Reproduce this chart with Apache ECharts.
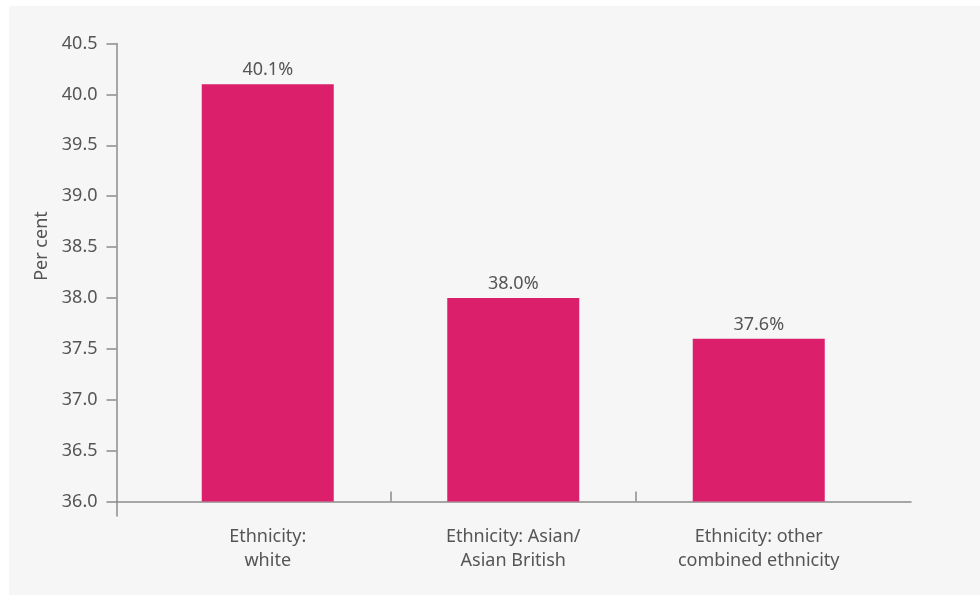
<!DOCTYPE html>
<html>
<head>
<meta charset="utf-8">
<script src="https://cdn.jsdelivr.net/npm/echarts@6/dist/echarts.min.js"></script>
<style>
  html, body { margin: 0; padding: 0; background: #ffffff; }
  #chart { position: absolute; left: 9px; top: 6px; width: 971px; height: 589px; background: #f6f6f6; }
</style>
</head>
<body>
<div id="chart"></div>
<script>
const categories = ['Ethnicity:\nwhite', 'Ethnicity: Asian/\nAsian British', 'Ethnicity: other\ncombined ethnicity'];
const values = [40.1, 38.0, 37.6];
const yMin = 36.0, yMax = 40.5, yStep = 0.5;
const boundaryTicks = [1, 2];

const FONT = 'Noto Sans';
const TEXT = '#555555';
const AXIS = '#8c8c8c';
const BAR = '#DB1F6B';

const chart = echarts.init(document.getElementById('chart'), null, { renderer: 'canvas' });
chart.setOption({
  backgroundColor: '#f6f6f6',
  animation: false,
  textStyle: { fontFamily: FONT },
  grid: [
    { left: 136, right: 98.5, top: 37.5, bottom: 93.5 },
    { left: 107.5, right: 69, top: 37.5, bottom: 93.5 },
    { left: 107.5, width: 10, top: 495.5, height: 14.5 }
  ],
  xAxis: [
    {
      type: 'category', gridIndex: 0, data: categories,
      axisLine: { show: false }, axisTick: { show: false },
      axisLabel: { color: TEXT, fontSize: 18, fontFamily: FONT, lineHeight: 24, margin: 23, interval: 0 }
    },
    {
      type: 'value', gridIndex: 0, min: 0, max: categories.length, position: 'bottom',
      axisLine: { show: false, onZero: false }, splitLine: { show: false }, axisLabel: { show: false },
      axisTick: { show: true, inside: true, length: 10, customValues: boundaryTicks, lineStyle: { color: AXIS, width: 1.5 } }
    },
    {
      type: 'value', gridIndex: 1, min: 0, max: 1,
      axisLine: { show: true, onZero: false, lineStyle: { color: AXIS, width: 1.5 } },
      axisTick: { show: false }, axisLabel: { show: false }, splitLine: { show: false }
    },
    {
      type: 'value', gridIndex: 2, min: 0, max: 1, show: false
    }
  ],
  yAxis: [
    {
      type: 'value', gridIndex: 0, min: yMin, max: yMax, interval: yStep, offset: 28.5,
      name: 'Per cent', nameLocation: 'middle', nameGap: 66, nameRotate: 90,
      nameTextStyle: { color: TEXT, fontSize: 18, fontFamily: FONT, padding: [0, 0, 0, 53] },
      axisLine: { show: true, onZero: false, lineStyle: { color: AXIS, width: 1.5 } },
      axisTick: { show: true, length: 10, lineStyle: { color: AXIS, width: 1.5 } },
      axisLabel: { color: TEXT, fontSize: 18, fontFamily: FONT, margin: 19, formatter: v => v.toFixed(1) },
      splitLine: { show: false }
    },
    {
      type: 'value', gridIndex: 1, min: 0, max: 1, show: false
    },
    {
      type: 'value', gridIndex: 2, min: 0, max: 1,
      axisLine: { show: true, onZero: false, lineStyle: { color: AXIS, width: 1.5 } },
      axisTick: { show: false }, axisLabel: { show: false }, splitLine: { show: false }
    }
  ],
  series: [
    {
      type: 'bar', xAxisIndex: 0, yAxisIndex: 0, data: values, barWidth: 132,
      itemStyle: { color: BAR },
      label: { show: true, position: 'top', distance: 5, color: TEXT, fontSize: 18, fontFamily: FONT,
               formatter: p => p.value.toFixed(1) + '%' }
    }
  ]
});
</script>
</body>
</html>
